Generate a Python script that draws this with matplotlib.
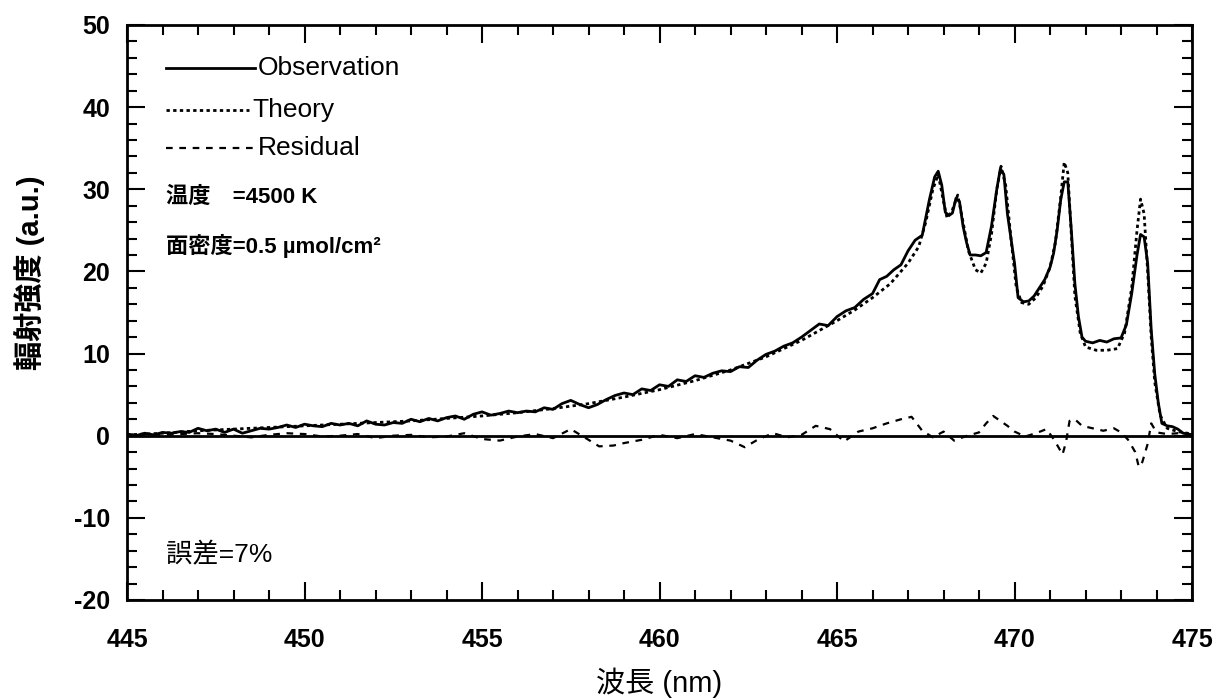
import matplotlib
matplotlib.use("Agg")
import matplotlib.pyplot as plt
from matplotlib.ticker import MultipleLocator

plt.rcParams['font.family'] = ['Liberation Sans', 'Noto Sans CJK JP', 'DejaVu Sans']
plt.rcParams['axes.unicode_minus'] = False

# ---------------- data ----------------
obs_wl = [445.00, 445.25, 445.50, 445.75, 446.00, 446.25, 446.50, 446.75, 447.00, 447.25,
          447.50, 447.75, 448.00, 448.25, 448.50, 448.75, 449.00, 449.25, 449.50, 449.75,
          450.00, 450.25, 450.50, 450.75, 451.00, 451.25, 451.50, 451.75, 452.00, 452.25,
          452.50, 452.75, 453.00, 453.25, 453.50, 453.75, 454.00, 454.25, 454.50, 454.75,
          455.00, 455.25, 455.50, 455.75, 456.00, 456.25, 456.50, 456.75, 457.00, 457.25,
          457.50, 457.75, 458.00, 458.25, 458.50, 458.75, 459.00, 459.25, 459.50, 459.75,
          460.00, 460.25, 460.50, 460.75, 461.00, 461.25, 461.50, 461.75, 462.00, 462.25,
          462.50, 462.75, 463.00, 463.25, 463.50, 463.75, 464.00, 464.25, 464.50, 464.75,
          465.00, 465.25, 465.50, 465.75, 466.00,
          466.2, 466.4, 466.6, 466.8, 467.0, 467.2, 467.4, 467.6, 467.75, 467.85,
          467.95, 468.05, 468.15, 468.25, 468.35, 468.45, 468.55, 468.65, 468.75, 468.9,
          469.05, 469.2, 469.35, 469.5, 469.6, 469.7, 469.8, 469.9, 470.0, 470.1,
          470.25, 470.4, 470.55, 470.7, 470.85, 471.0, 471.1, 471.2, 471.3, 471.4,
          471.5, 471.6, 471.7, 471.8, 471.9, 472.0, 472.2, 472.4, 472.6, 472.8,
          473.0, 473.15, 473.3, 473.45, 473.55, 473.65, 473.75, 473.85, 473.95, 474.05,
          474.15, 474.3, 474.45, 474.6, 474.75, 474.9, 475.0]
obs_val = [0.2, 0.0, 0.3, 0.1, 0.4, 0.3, 0.5, 0.4, 0.9, 0.6,
           0.8, 0.4, 0.8, 0.3, 0.6, 0.9, 0.8, 1.0, 1.3, 1.0,
           1.4, 1.2, 1.1, 1.5, 1.3, 1.5, 1.2, 1.8, 1.4, 1.3,
           1.6, 1.5, 2.0, 1.7, 2.1, 1.8, 2.2, 2.4, 2.0, 2.6,
           2.9, 2.5, 2.7, 3.0, 2.8, 3.0, 2.9, 3.4, 3.2, 3.9,
           4.3, 3.8, 3.4, 3.8, 4.4, 4.9, 5.2, 5.0, 5.7, 5.5,
           6.2, 6.0, 6.8, 6.6, 7.3, 7.1, 7.6, 7.9, 7.8, 8.4,
           8.3, 9.2, 9.9, 10.3, 10.9, 11.3, 12.0, 12.8, 13.6, 13.4,
           14.5, 15.2, 15.6, 16.6, 17.3,
           19.0, 19.4, 20.2, 20.8, 22.5, 23.8, 24.4, 28.7, 31.5, 32.2,
           30.5, 27.2, 26.8, 27.1, 28.9, 28.5, 25.5, 23.5, 22.0, 22.0,
           21.9, 22.3, 25.5, 30.0, 32.5, 31.8, 27.0, 24.0, 21.0, 16.8,
           16.3, 16.4, 17.0, 18.0, 19.0, 20.5, 22.2, 25.0, 28.7, 30.9,
           30.9, 25.0, 18.5, 14.5, 12.0, 11.5, 11.3, 11.6, 11.4, 11.8,
           11.9, 13.5, 17.3, 22.0, 24.5, 24.2, 21.0, 12.9, 7.5, 4.0,
           1.5, 1.2, 1.1, 0.8, 0.3, 0.2, 0.1]

th_wl = [445, 446, 447, 448, 449, 450, 451, 452, 453, 454, 455, 456, 457, 458, 459,
         460, 461, 462, 463, 464, 465, 465.5, 466, 466.5, 467, 467.3, 467.5, 467.7,
         467.85, 468.0, 468.1, 468.25, 468.4, 468.55, 468.7, 468.9, 469.05, 469.2,
         469.35, 469.5, 469.62, 469.75, 469.9, 470.05, 470.2, 470.4, 470.6, 470.8,
         471.0, 471.15, 471.3, 471.4, 471.5, 471.6, 471.7, 471.85, 472.0, 472.3,
         472.6, 472.9, 473.1, 473.3, 473.45, 473.55, 473.65, 473.75, 473.85, 473.95,
         474.1, 474.3, 474.6, 475]
th_val = [0.1, 0.3, 0.6, 0.8, 1.0, 1.2, 1.4, 1.6, 1.8, 2.1, 2.4, 2.8, 3.3, 3.9, 4.7,
          5.6, 6.7, 8.0, 9.6, 11.6, 14.0, 15.3, 16.8, 18.5, 21.0, 23.0, 26.0, 30.0,
          31.8, 28.5, 26.5, 27.5, 29.3, 26.0, 22.5, 20.2, 19.8, 21.0,
          24.5, 30.0, 32.8, 30.5, 24.0, 18.0, 16.2, 16.0, 16.8, 18.2,
          20.5, 23.5, 29.0, 33.3, 32.0, 24.5, 17.0, 12.5, 10.8, 10.4,
          10.4, 10.6, 12.5, 18.0, 25.0, 28.8, 27.0, 20.0, 12.0, 6.5,
          2.5, 0.9, 0.5, 0.2]

res_wl = [445, 445.5, 446, 446.5, 447, 447.5, 448, 448.5, 449, 449.5, 450, 450.5, 451,
          451.5, 452, 452.5, 453, 453.5, 454, 454.5, 455, 455.5, 456, 456.5, 457,
          457.5, 458, 458.3, 458.7, 459, 459.5, 460, 460.5, 461, 461.5, 462, 462.4,
          462.8, 463.2, 463.6, 464, 464.4, 464.8, 465.2, 465.6, 466, 466.4, 466.8,
          467.1, 467.4, 467.7, 468.0, 468.3, 468.6, 469.0, 469.2, 469.4, 469.6,
          469.8, 470.0, 470.3, 470.6, 470.9, 471.1, 471.25, 471.35, 471.45, 471.55,
          471.7, 471.9, 472.2, 472.5, 472.8, 473.0, 473.2, 473.4, 473.5, 473.6,
          473.75, 473.85, 474.0, 474.3, 474.6, 475]
res_val = [0.1, 0.2, 0.1, 0.2, 0.3, 0.2, 0.0, -0.2, 0.1, 0.3, 0.2, -0.1, 0.0,
           0.2, -0.3, 0.0, 0.1, -0.2, -0.1, 0.3, -0.4, -0.6, -0.1, 0.2, -0.3,
           0.8, -0.5, -1.3, -1.2, -0.9, -0.5, 0.1, -0.3, 0.2, -0.2, -0.6, -1.4,
           -0.4, 0.3, -0.2, 0.1, 1.2, 0.8, -0.7, 0.5, 0.9, 1.5, 2.0,
           2.3, 0.6, -0.2, 0.5, -0.6, -0.1, 0.4, 1.5, 2.4, 1.8,
           1.2, 0.5, -0.1, 0.3, 0.8, -0.4, -1.5, -2.3, -0.8, 1.8,
           2.0, 1.2, 0.9, 0.6, 0.9, 0.4, -0.5, -2.0, -3.8, -3.2,
           -1.0, 1.5, 0.4, 0.2, 0.3, 0.1]

x_ticks = [445, 450, 455, 460, 465, 470, 475]
y_ticks = [-20, -10, 0, 10, 20, 30, 40, 50]

# ---------------- figure ----------------
fig = plt.figure(figsize=(12.26, 7.0), dpi=100)
ax = fig.add_axes([0.1036, 0.1429, 0.8687, 0.8214])

ax.axhline(0, color='black', lw=2.0, zorder=1)
ax.plot(obs_wl, obs_val, color='black', lw=2.0, ls='-', zorder=3)
ax.plot(th_wl, th_val, color='black', lw=2.0, ls=(0, (1.2, 1.2)), zorder=2)
ax.plot(res_wl, res_val, color='black', lw=1.6, ls=(0, (3, 3)), zorder=2)

ax.set_xlim(445, 475)
ax.set_ylim(-20, 50)
ax.set_xticks(x_ticks)
ax.set_yticks(y_ticks)
ax.xaxis.set_minor_locator(MultipleLocator(1))
ax.yaxis.set_minor_locator(MultipleLocator(2))
ax.tick_params(which='both', direction='in', top=True, right=True, width=1.5)
ax.tick_params(which='major', length=13, labelsize=18)
ax.tick_params(axis='x', which='major', pad=20)
ax.tick_params(axis='y', which='major', pad=12)
ax.tick_params(which='minor', length=7)
for lab in ax.get_xticklabels() + ax.get_yticklabels():
    lab.set_fontweight('bold')
for sp in ax.spines.values():
    sp.set_linewidth(2.0)

ax.set_xlabel('波長 (nm)', fontsize=21)
ax.xaxis.set_label_coords(0.5, -0.118)
ax.set_ylabel('輻射強度 (a.u.)', fontsize=21, fontweight='bold')
ax.yaxis.set_label_coords(-0.077, 0.57)

# legend drawn manually
tr = ax.transAxes
ax.plot([0.037, 0.12], [0.925, 0.925], color='black', lw=2.0, transform=tr)
ax.plot([0.037, 0.115], [0.852, 0.852], color='black', lw=2.0, ls=(0, (1.2, 1.2)), transform=tr)
ax.plot([0.037, 0.12], [0.786, 0.786], color='black', lw=1.6, ls=(0, (3, 3)), transform=tr)
ax.text(0.123, 0.925, 'Observation', transform=tr, fontsize=19, va='center', ha='left')
ax.text(0.118, 0.852, 'Theory', transform=tr, fontsize=19, va='center', ha='left')
ax.text(0.123, 0.786, 'Residual', transform=tr, fontsize=19, va='center', ha='left')
ax.text(0.037, 0.70, '温度\u3000=4500 K', transform=tr, fontsize=16, fontweight='bold',
        va='center', ha='left')
ax.text(0.037, 0.615, '面密度=0.5 µmol/cm²', transform=tr, fontsize=16, fontweight='bold',
        va='center', ha='left')
ax.text(0.037, 0.078, '誤差=7%', transform=tr, fontsize=19, va='center', ha='left')

fig.savefig('out.png', dpi=100)
